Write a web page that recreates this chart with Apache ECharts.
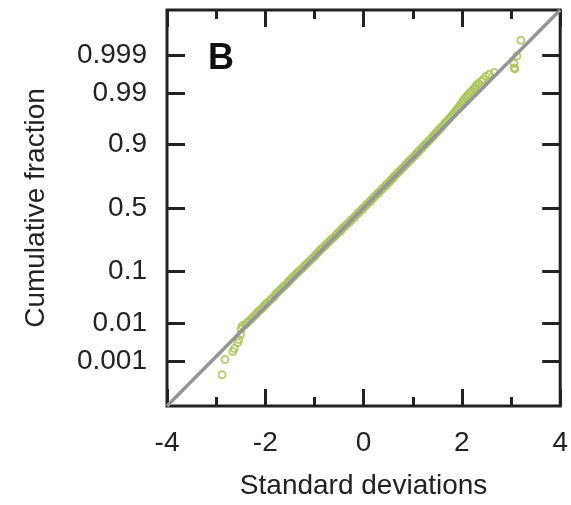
<!DOCTYPE html>
<html>
<head>
<meta charset="utf-8">
<script src="https://cdn.jsdelivr.net/npm/echarts@6/dist/echarts.min.js"></script>
<style>
html,body{margin:0;padding:0;background:#fff;}
#chart{width:571px;height:505px;}
</style>
</head>
<body>
<div id="chart"></div>
<script>
// Normal probability plot: x = standard deviations, y = probit of cumulative fraction
var sdValues = [
  -2.88,-2.82,-2.66,-2.63,-2.56,-2.54,-2.50,-2.49,-2.47,
  -2.41,-2.37,-2.33,-2.28,-2.25,-2.20,-2.17,-2.13,-2.08,-2.04,
  -2.00,-1.97,-1.92,-1.88,-1.83,-1.80,-1.77,-1.72,-1.68,-1.64,
  -1.60,-1.55,-1.52,-1.48,-1.44,-1.40,-1.36,-1.32,-1.27,-1.23,
  -1.19,-1.15,-1.11,-1.07,-1.02,-0.98,-0.95,-0.91,-0.87,-0.83,
  -0.78,-0.75,-0.70,-0.66,-0.62,-0.57,-0.54,-0.49,-0.45,-0.42,
  -0.37,-0.33,-0.28,-0.25,-0.20,-0.17,-0.12,-0.09,-0.04,-0.01,
  0.04,0.07,0.12,0.15,0.20,0.23,0.28,0.31,0.36,0.39,
  0.44,0.47,0.52,0.55,0.60,0.62,0.67,0.70,0.75,0.78,
  0.83,0.86,0.90,0.94,0.98,1.02,1.06,1.10,1.13,1.18,
  1.21,1.25,1.29,1.33,1.37,1.41,1.44,1.48,1.52,1.55,
  1.59,1.63,1.66,1.70,1.74,1.77,1.81,1.84,1.88,1.91,
  1.94,1.97,2.00,2.02,2.05,2.09,2.12,2.15,2.19,2.24,
  2.27,2.30,2.34,2.40,2.44,2.49,2.56,2.66,
  3.06,3.06,3.08,3.12,3.20
];
var probitValues = [
  -3.37,-3.06,-2.90,-2.84,-2.72,-2.66,-2.55,-2.44,-2.38,
  -2.36,-2.32,-2.28,-2.24,-2.20,-2.16,-2.12,-2.08,-2.04,-2.00,
  -1.96,-1.92,-1.88,-1.84,-1.80,-1.76,-1.72,-1.68,-1.64,-1.60,
  -1.56,-1.52,-1.48,-1.44,-1.40,-1.36,-1.32,-1.28,-1.24,-1.20,
  -1.16,-1.12,-1.08,-1.04,-1.00,-0.96,-0.92,-0.88,-0.84,-0.80,
  -0.76,-0.72,-0.68,-0.64,-0.60,-0.56,-0.52,-0.48,-0.44,-0.40,
  -0.36,-0.32,-0.28,-0.24,-0.20,-0.16,-0.12,-0.08,-0.04,0.00,
  0.04,0.08,0.12,0.16,0.20,0.24,0.28,0.32,0.36,0.40,
  0.44,0.48,0.52,0.56,0.60,0.64,0.68,0.72,0.76,0.80,
  0.84,0.88,0.92,0.96,1.00,1.04,1.08,1.12,1.16,1.20,
  1.24,1.28,1.32,1.36,1.40,1.44,1.48,1.52,1.56,1.60,
  1.64,1.68,1.72,1.76,1.80,1.84,1.88,1.92,1.96,2.00,
  2.04,2.08,2.12,2.16,2.20,2.24,2.28,2.32,2.36,2.40,
  2.44,2.48,2.52,2.56,2.60,2.66,2.70,2.74,
  2.83,2.92,2.81,3.07,3.39
];
var refLineX = [-4, 4];
var refLineY = [-4, 4];
var xMajorTicks = [-4, -2, 0, 2, 4];
var xMinorTicks = [-3, -1, 1, 3];
var yTickLabels = ['0.001', '0.01', '0.1', '0.5', '0.9', '0.99', '0.999'];
var yTickPositions = [-3.0902, -2.3263, -1.2816, 0, 1.2816, 2.3263, 3.0902];

var points = sdValues.map(function (v, i) { return [v, probitValues[i]]; });
var line = refLineX.map(function (v, i) { return [v, refLineY[i]]; });

var FONT = 'Liberation Sans, Arial, Helvetica, sans-serif';
var INK = '#222222';

function xAxisDef(pos, ticks, len, labels, name) {
  return {
    type: 'value', position: pos, min: -4, max: 4,
    axisLine: { show: false, onZero: false },
    splitLine: { show: false },
    axisTick: { show: true, inside: true, length: len, customValues: ticks,
      lineStyle: { color: INK, width: 3 } },
    axisLabel: labels ? { show: true, customValues: ticks, margin: 23,
      fontSize: 28, fontFamily: FONT, color: INK } : { show: false },
    name: name || '', nameLocation: 'middle', nameGap: 66,
    nameTextStyle: { fontSize: 28, fontFamily: FONT, color: INK }
  };
}
function yAxisDef(pos, labels, name) {
  return {
    type: 'value', position: pos, min: -4, max: 4,
    axisLine: { show: false, onZero: false },
    splitLine: { show: false },
    axisTick: { show: true, inside: true, length: 18, customValues: yTickPositions,
      lineStyle: { color: INK, width: 3 } },
    axisLabel: labels ? { show: true, customValues: yTickPositions, margin: 20,
      fontSize: 28, fontFamily: FONT, color: INK,
      formatter: function (v) {
        for (var i = 0; i < yTickPositions.length; i++) {
          if (Math.abs(yTickPositions[i] - v) < 1e-6) return yTickLabels[i];
        }
        return '';
      } } : { show: false },
    name: name || '', nameLocation: 'middle', nameGap: 117, nameRotate: 90,
    nameTextStyle: { fontSize: 28, fontFamily: FONT, color: INK }
  };
}

var chart = echarts.init(document.getElementById('chart'), null, { renderer: 'canvas' });
chart.setOption({
  animation: false,
  backgroundColor: '#ffffff',
  grid: { left: 167, top: 10, width: 396, height: 397, show: true,
    borderColor: INK, borderWidth: 3, backgroundColor: 'transparent' },
  xAxis: [
    xAxisDef('bottom', xMajorTicks, 17, true, 'Standard deviations'),
    xAxisDef('bottom', xMinorTicks, 9, false),
    xAxisDef('top', xMajorTicks, 17, false),
    xAxisDef('top', xMinorTicks, 9, false)
  ],
  yAxis: [
    yAxisDef('left', true, 'Cumulative fraction'),
    yAxisDef('right', false)
  ],
  graphic: [{
    type: 'text', left: 208, top: 41,
    style: { text: 'B', fontSize: 36, fontWeight: 'bold', fontFamily: FONT, fill: '#111' }
  }],
  series: [
    {
      type: 'scatter', xAxisIndex: 0, yAxisIndex: 0, data: points,
      symbol: 'circle', symbolSize: 7,
      itemStyle: { color: 'rgba(0,0,0,0)', borderColor: '#a8c257', borderWidth: 2 },
      z: 2
    },
    {
      type: 'line', xAxisIndex: 0, yAxisIndex: 0, data: line,
      showSymbol: false, symbol: 'none', clip: true,
      lineStyle: { color: '#959595', width: 3.5 },
      z: 3
    }
  ]
});
</script>
</body>
</html>
